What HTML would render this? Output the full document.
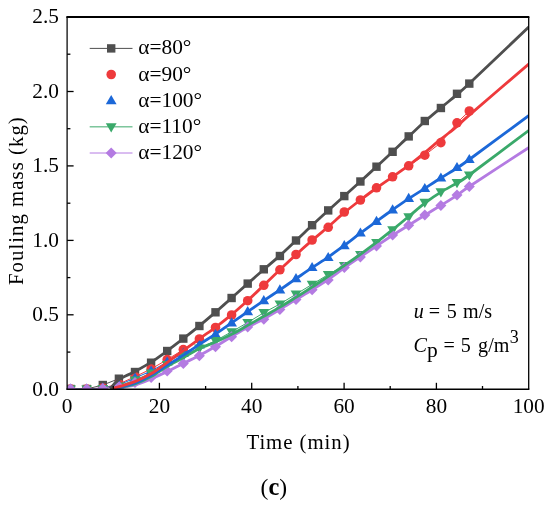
<!DOCTYPE html>
<html><head><meta charset="utf-8"><title>Fouling mass chart (c)</title>
<style>
html,body{margin:0;padding:0;background:#fff;}
svg{display:block}
text{font-family:"Liberation Serif",serif;fill:#000}
.t{font-size:21.3px}
.l{font-size:21.4px}
.a{font-size:20.8px}
.n{font-size:20.1px}
</style></head><body>
<svg width="550" height="507" viewBox="0 0 550 507">
<defs><clipPath id="pc"><rect x="67.1" y="17.0" width="461.6" height="372.3"/></clipPath></defs>
<rect width="550" height="507" fill="#fff"/>
<g clip-path="url(#pc)">
<polyline points="70.6,389.0 86.7,389.0 102.8,385.0 118.9,378.7 135.0,372.0 151.1,362.7 167.2,351.0 183.3,338.6 199.4,326.0 215.5,312.3 231.6,298.0 247.7,283.6 263.8,269.3 279.9,256.0 296.0,240.5 312.1,225.2 328.2,210.4 344.3,196.1 360.4,181.5 376.5,166.7 392.6,151.8 408.7,136.4 424.8,121.0 440.9,108.0 457.0,93.8 469.3,83.6" fill="none" stroke="#4f4f4f" stroke-width="1"/>
<rect x="66.4" y="384.8" width="8.4" height="8.4" fill="#4f4f4f"/>
<rect x="82.5" y="384.8" width="8.4" height="8.4" fill="#4f4f4f"/>
<rect x="98.6" y="380.8" width="8.4" height="8.4" fill="#4f4f4f"/>
<rect x="114.7" y="374.5" width="8.4" height="8.4" fill="#4f4f4f"/>
<rect x="130.8" y="367.8" width="8.4" height="8.4" fill="#4f4f4f"/>
<rect x="146.9" y="358.5" width="8.4" height="8.4" fill="#4f4f4f"/>
<rect x="163.0" y="346.8" width="8.4" height="8.4" fill="#4f4f4f"/>
<rect x="179.1" y="334.4" width="8.4" height="8.4" fill="#4f4f4f"/>
<rect x="195.2" y="321.8" width="8.4" height="8.4" fill="#4f4f4f"/>
<rect x="211.3" y="308.1" width="8.4" height="8.4" fill="#4f4f4f"/>
<rect x="227.4" y="293.8" width="8.4" height="8.4" fill="#4f4f4f"/>
<rect x="243.5" y="279.4" width="8.4" height="8.4" fill="#4f4f4f"/>
<rect x="259.6" y="265.1" width="8.4" height="8.4" fill="#4f4f4f"/>
<rect x="275.7" y="251.8" width="8.4" height="8.4" fill="#4f4f4f"/>
<rect x="291.8" y="236.3" width="8.4" height="8.4" fill="#4f4f4f"/>
<rect x="307.9" y="221.0" width="8.4" height="8.4" fill="#4f4f4f"/>
<rect x="324.0" y="206.2" width="8.4" height="8.4" fill="#4f4f4f"/>
<rect x="340.1" y="191.9" width="8.4" height="8.4" fill="#4f4f4f"/>
<rect x="356.2" y="177.3" width="8.4" height="8.4" fill="#4f4f4f"/>
<rect x="372.3" y="162.5" width="8.4" height="8.4" fill="#4f4f4f"/>
<rect x="388.4" y="147.6" width="8.4" height="8.4" fill="#4f4f4f"/>
<rect x="404.5" y="132.2" width="8.4" height="8.4" fill="#4f4f4f"/>
<rect x="420.6" y="116.8" width="8.4" height="8.4" fill="#4f4f4f"/>
<rect x="436.7" y="103.8" width="8.4" height="8.4" fill="#4f4f4f"/>
<rect x="452.8" y="89.6" width="8.4" height="8.4" fill="#4f4f4f"/>
<rect x="465.1" y="79.4" width="8.4" height="8.4" fill="#4f4f4f"/>
<polyline points="70.6,389.0 86.7,389.0 102.8,388.0 118.9,384.0 135.0,376.7 151.1,369.0 167.2,359.6 183.3,349.6 199.4,339.0 215.5,327.5 231.6,315.0 247.7,300.7 263.8,285.3 279.9,269.8 296.0,254.5 312.1,240.0 328.2,227.3 344.3,212.0 360.4,200.0 376.5,187.8 392.6,176.8 408.7,165.8 424.8,155.2 440.9,142.6 457.0,122.8 469.3,111.0" fill="none" stroke="#ee3a3c" stroke-width="1"/>
<circle cx="70.6" cy="389.0" r="4.8" fill="#ee3a3c"/>
<circle cx="86.7" cy="389.0" r="4.8" fill="#ee3a3c"/>
<circle cx="102.8" cy="388.0" r="4.8" fill="#ee3a3c"/>
<circle cx="118.9" cy="384.0" r="4.8" fill="#ee3a3c"/>
<circle cx="135.0" cy="376.7" r="4.8" fill="#ee3a3c"/>
<circle cx="151.1" cy="369.0" r="4.8" fill="#ee3a3c"/>
<circle cx="167.2" cy="359.6" r="4.8" fill="#ee3a3c"/>
<circle cx="183.3" cy="349.6" r="4.8" fill="#ee3a3c"/>
<circle cx="199.4" cy="339.0" r="4.8" fill="#ee3a3c"/>
<circle cx="215.5" cy="327.5" r="4.8" fill="#ee3a3c"/>
<circle cx="231.6" cy="315.0" r="4.8" fill="#ee3a3c"/>
<circle cx="247.7" cy="300.7" r="4.8" fill="#ee3a3c"/>
<circle cx="263.8" cy="285.3" r="4.8" fill="#ee3a3c"/>
<circle cx="279.9" cy="269.8" r="4.8" fill="#ee3a3c"/>
<circle cx="296.0" cy="254.5" r="4.8" fill="#ee3a3c"/>
<circle cx="312.1" cy="240.0" r="4.8" fill="#ee3a3c"/>
<circle cx="328.2" cy="227.3" r="4.8" fill="#ee3a3c"/>
<circle cx="344.3" cy="212.0" r="4.8" fill="#ee3a3c"/>
<circle cx="360.4" cy="200.0" r="4.8" fill="#ee3a3c"/>
<circle cx="376.5" cy="187.8" r="4.8" fill="#ee3a3c"/>
<circle cx="392.6" cy="176.8" r="4.8" fill="#ee3a3c"/>
<circle cx="408.7" cy="165.8" r="4.8" fill="#ee3a3c"/>
<circle cx="424.8" cy="155.2" r="4.8" fill="#ee3a3c"/>
<circle cx="440.9" cy="142.6" r="4.8" fill="#ee3a3c"/>
<circle cx="457.0" cy="122.8" r="4.8" fill="#ee3a3c"/>
<circle cx="469.3" cy="111.0" r="4.8" fill="#ee3a3c"/>
<polyline points="70.6,389.0 86.7,389.0 102.8,388.0 118.9,385.0 135.0,378.0 151.1,371.0 167.2,362.0 183.3,353.3 199.4,344.8 215.5,334.3 231.6,322.8 247.7,311.6 263.8,300.7 279.9,289.8 296.0,278.7 312.1,267.5 328.2,257.5 344.3,245.6 360.4,233.0 376.5,221.3 392.6,209.8 408.7,198.3 424.8,188.5 440.9,178.0 457.0,167.5 469.3,159.5" fill="none" stroke="#1c68d8" stroke-width="1"/>
<path d="M65.2 392.6L76.0 392.6L70.6 383.4Z" fill="#1c68d8"/>
<path d="M81.3 392.6L92.1 392.6L86.7 383.4Z" fill="#1c68d8"/>
<path d="M97.4 391.6L108.2 391.6L102.8 382.4Z" fill="#1c68d8"/>
<path d="M113.5 388.6L124.3 388.6L118.9 379.4Z" fill="#1c68d8"/>
<path d="M129.6 381.6L140.4 381.6L135.0 372.4Z" fill="#1c68d8"/>
<path d="M145.7 374.6L156.5 374.6L151.1 365.4Z" fill="#1c68d8"/>
<path d="M161.8 365.6L172.6 365.6L167.2 356.4Z" fill="#1c68d8"/>
<path d="M177.9 356.9L188.7 356.9L183.3 347.7Z" fill="#1c68d8"/>
<path d="M194.0 348.4L204.8 348.4L199.4 339.2Z" fill="#1c68d8"/>
<path d="M210.1 337.9L220.9 337.9L215.5 328.7Z" fill="#1c68d8"/>
<path d="M226.2 326.4L237.0 326.4L231.6 317.2Z" fill="#1c68d8"/>
<path d="M242.3 315.2L253.1 315.2L247.7 306.0Z" fill="#1c68d8"/>
<path d="M258.4 304.3L269.2 304.3L263.8 295.1Z" fill="#1c68d8"/>
<path d="M274.5 293.4L285.3 293.4L279.9 284.2Z" fill="#1c68d8"/>
<path d="M290.6 282.3L301.4 282.3L296.0 273.1Z" fill="#1c68d8"/>
<path d="M306.7 271.1L317.5 271.1L312.1 261.9Z" fill="#1c68d8"/>
<path d="M322.8 261.1L333.6 261.1L328.2 251.9Z" fill="#1c68d8"/>
<path d="M338.9 249.2L349.7 249.2L344.3 240.0Z" fill="#1c68d8"/>
<path d="M355.0 236.6L365.8 236.6L360.4 227.4Z" fill="#1c68d8"/>
<path d="M371.1 224.9L381.9 224.9L376.5 215.7Z" fill="#1c68d8"/>
<path d="M387.2 213.4L398.0 213.4L392.6 204.2Z" fill="#1c68d8"/>
<path d="M403.3 201.9L414.1 201.9L408.7 192.7Z" fill="#1c68d8"/>
<path d="M419.4 192.1L430.2 192.1L424.8 182.9Z" fill="#1c68d8"/>
<path d="M435.5 181.6L446.3 181.6L440.9 172.4Z" fill="#1c68d8"/>
<path d="M451.6 171.1L462.4 171.1L457.0 161.9Z" fill="#1c68d8"/>
<path d="M463.9 163.1L474.7 163.1L469.3 153.9Z" fill="#1c68d8"/>
<polyline points="70.6,389.0 86.7,389.0 102.8,388.5 118.9,386.0 135.0,380.0 151.1,373.0 167.2,364.7 183.3,355.8 199.4,348.2 215.5,340.7 231.6,331.8 247.7,322.5 263.8,312.7 279.9,304.0 296.0,294.2 312.1,284.4 328.2,274.5 344.3,265.5 360.4,254.5 376.5,242.5 392.6,229.8 408.7,216.8 424.8,202.3 440.9,191.8 457.0,182.7 469.3,175.0" fill="none" stroke="#3aa96a" stroke-width="1"/>
<path d="M65.2 385.4L76.0 385.4L70.6 394.6Z" fill="#3aa96a"/>
<path d="M81.3 385.4L92.1 385.4L86.7 394.6Z" fill="#3aa96a"/>
<path d="M97.4 384.9L108.2 384.9L102.8 394.1Z" fill="#3aa96a"/>
<path d="M113.5 382.4L124.3 382.4L118.9 391.6Z" fill="#3aa96a"/>
<path d="M129.6 376.4L140.4 376.4L135.0 385.6Z" fill="#3aa96a"/>
<path d="M145.7 369.4L156.5 369.4L151.1 378.6Z" fill="#3aa96a"/>
<path d="M161.8 361.1L172.6 361.1L167.2 370.3Z" fill="#3aa96a"/>
<path d="M177.9 352.2L188.7 352.2L183.3 361.4Z" fill="#3aa96a"/>
<path d="M194.0 344.6L204.8 344.6L199.4 353.8Z" fill="#3aa96a"/>
<path d="M210.1 337.1L220.9 337.1L215.5 346.3Z" fill="#3aa96a"/>
<path d="M226.2 328.2L237.0 328.2L231.6 337.4Z" fill="#3aa96a"/>
<path d="M242.3 318.9L253.1 318.9L247.7 328.1Z" fill="#3aa96a"/>
<path d="M258.4 309.1L269.2 309.1L263.8 318.3Z" fill="#3aa96a"/>
<path d="M274.5 300.4L285.3 300.4L279.9 309.6Z" fill="#3aa96a"/>
<path d="M290.6 290.6L301.4 290.6L296.0 299.8Z" fill="#3aa96a"/>
<path d="M306.7 280.8L317.5 280.8L312.1 290.0Z" fill="#3aa96a"/>
<path d="M322.8 270.9L333.6 270.9L328.2 280.1Z" fill="#3aa96a"/>
<path d="M338.9 261.9L349.7 261.9L344.3 271.1Z" fill="#3aa96a"/>
<path d="M355.0 250.9L365.8 250.9L360.4 260.1Z" fill="#3aa96a"/>
<path d="M371.1 238.9L381.9 238.9L376.5 248.1Z" fill="#3aa96a"/>
<path d="M387.2 226.2L398.0 226.2L392.6 235.4Z" fill="#3aa96a"/>
<path d="M403.3 213.2L414.1 213.2L408.7 222.4Z" fill="#3aa96a"/>
<path d="M419.4 198.7L430.2 198.7L424.8 207.9Z" fill="#3aa96a"/>
<path d="M435.5 188.2L446.3 188.2L440.9 197.4Z" fill="#3aa96a"/>
<path d="M451.6 179.1L462.4 179.1L457.0 188.3Z" fill="#3aa96a"/>
<path d="M463.9 171.4L474.7 171.4L469.3 180.6Z" fill="#3aa96a"/>
<polyline points="70.6,389.0 86.7,389.0 102.8,388.5 118.9,386.5 135.0,382.5 151.1,377.4 167.2,371.0 183.3,363.4 199.4,355.8 215.5,346.7 231.6,336.7 247.7,326.9 263.8,319.3 279.9,309.5 296.0,299.6 312.1,289.8 328.2,280.0 344.3,267.5 360.4,257.0 376.5,246.0 392.6,235.0 408.7,225.3 424.8,215.0 440.9,205.6 457.0,195.0 469.3,186.5" fill="none" stroke="#b47be2" stroke-width="1"/>
<path d="M65.1 389.0L70.6 383.5L76.1 389.0L70.6 394.5Z" fill="#b47be2"/>
<path d="M81.2 389.0L86.7 383.5L92.2 389.0L86.7 394.5Z" fill="#b47be2"/>
<path d="M97.3 388.5L102.8 383.0L108.3 388.5L102.8 394.0Z" fill="#b47be2"/>
<path d="M113.4 386.5L118.9 381.0L124.4 386.5L118.9 392.0Z" fill="#b47be2"/>
<path d="M129.5 382.5L135.0 377.0L140.5 382.5L135.0 388.0Z" fill="#b47be2"/>
<path d="M145.6 377.4L151.1 371.9L156.6 377.4L151.1 382.9Z" fill="#b47be2"/>
<path d="M161.7 371.0L167.2 365.5L172.7 371.0L167.2 376.5Z" fill="#b47be2"/>
<path d="M177.8 363.4L183.3 357.9L188.8 363.4L183.3 368.9Z" fill="#b47be2"/>
<path d="M193.9 355.8L199.4 350.3L204.9 355.8L199.4 361.3Z" fill="#b47be2"/>
<path d="M210.0 346.7L215.5 341.2L221.0 346.7L215.5 352.2Z" fill="#b47be2"/>
<path d="M226.1 336.7L231.6 331.2L237.1 336.7L231.6 342.2Z" fill="#b47be2"/>
<path d="M242.2 326.9L247.7 321.4L253.2 326.9L247.7 332.4Z" fill="#b47be2"/>
<path d="M258.3 319.3L263.8 313.8L269.3 319.3L263.8 324.8Z" fill="#b47be2"/>
<path d="M274.4 309.5L279.9 304.0L285.4 309.5L279.9 315.0Z" fill="#b47be2"/>
<path d="M290.5 299.6L296.0 294.1L301.5 299.6L296.0 305.1Z" fill="#b47be2"/>
<path d="M306.6 289.8L312.1 284.3L317.6 289.8L312.1 295.3Z" fill="#b47be2"/>
<path d="M322.7 280.0L328.2 274.5L333.7 280.0L328.2 285.5Z" fill="#b47be2"/>
<path d="M338.8 267.5L344.3 262.0L349.8 267.5L344.3 273.0Z" fill="#b47be2"/>
<path d="M354.9 257.0L360.4 251.5L365.9 257.0L360.4 262.5Z" fill="#b47be2"/>
<path d="M371.0 246.0L376.5 240.5L382.0 246.0L376.5 251.5Z" fill="#b47be2"/>
<path d="M387.1 235.0L392.6 229.5L398.1 235.0L392.6 240.5Z" fill="#b47be2"/>
<path d="M403.2 225.3L408.7 219.8L414.2 225.3L408.7 230.8Z" fill="#b47be2"/>
<path d="M419.3 215.0L424.8 209.5L430.3 215.0L424.8 220.5Z" fill="#b47be2"/>
<path d="M435.4 205.6L440.9 200.1L446.4 205.6L440.9 211.1Z" fill="#b47be2"/>
<path d="M451.5 195.0L457.0 189.5L462.5 195.0L457.0 200.5Z" fill="#b47be2"/>
<path d="M463.8 186.5L469.3 181.0L474.8 186.5L469.3 192.0Z" fill="#b47be2"/>
<path d="M112.0 388.6 C113.2 388.5 115.2 388.6 119.0 388.0 C122.8 387.4 129.7 386.5 135.0 385.0 C140.3 383.5 145.7 381.2 151.0 379.0 C156.3 376.8 161.6 374.4 167.0 371.8 C172.4 369.2 177.9 366.1 183.3 363.4 C188.7 360.7 194.0 358.3 199.4 355.5 C204.8 352.7 210.1 349.6 215.5 346.5 C220.9 343.4 226.2 339.9 231.6 336.7 C237.0 333.5 242.3 330.3 247.7 327.3 C253.1 324.4 258.4 321.8 263.8 318.9 C269.2 315.9 274.5 312.7 279.9 309.5 C285.3 306.3 290.6 302.9 296.0 299.6 C301.4 296.3 306.7 293.2 312.1 289.8 C317.5 286.4 322.8 283.1 328.2 279.5 C333.6 275.8 338.9 271.7 344.3 267.9 C349.7 264.1 355.0 260.5 360.4 256.9 C365.8 253.2 371.1 249.6 376.5 246.0 C381.9 242.4 387.2 238.7 392.6 235.3 C398.0 231.8 403.3 228.5 408.7 225.2 C414.1 221.8 419.4 218.5 424.8 215.2 C430.2 211.9 435.5 208.7 440.9 205.4 C446.3 202.1 452.3 198.6 457.0 195.4 C461.7 192.3 457.3 194.5 469.3 186.5 C481.3 178.5 519.0 154.0 529.0 147.5" fill="none" stroke="#b47be2" stroke-width="2.8" stroke-linejoin="round"/>
<path d="M112.0 388.6 C113.2 388.5 115.2 388.5 119.0 387.7 C122.8 386.9 129.7 385.9 135.0 384.0 C140.3 382.1 145.7 379.5 151.0 376.6 C156.3 373.7 161.6 369.7 167.0 366.5 C172.4 363.3 178.1 360.6 183.5 357.6 C188.9 354.6 194.1 351.2 199.4 348.6 C204.7 346.0 210.1 344.4 215.5 342.0 C220.9 339.7 226.2 337.1 231.6 334.3 C237.0 331.5 242.3 328.4 247.7 325.4 C253.1 322.4 258.4 319.3 263.8 316.3 C269.2 313.2 274.5 310.3 279.9 307.1 C285.3 304.0 290.6 300.7 296.0 297.4 C301.4 294.1 306.7 290.6 312.1 287.1 C317.5 283.6 322.8 280.0 328.2 276.4 C333.6 272.8 338.9 269.2 344.3 265.5 C349.7 261.8 355.0 258.2 360.4 254.3 C365.8 250.4 371.1 246.5 376.5 242.4 C381.9 238.3 387.2 234.1 392.6 229.7 C398.0 225.4 403.3 220.9 408.7 216.5 C414.1 212.1 419.4 207.2 424.8 203.1 C430.2 199.0 435.5 195.4 440.9 192.1 C446.3 188.7 452.3 185.8 457.0 183.0 C461.7 180.1 457.3 183.8 469.3 175.0 C481.3 166.2 519.0 137.8 529.0 130.3" fill="none" stroke="#3aa96a" stroke-width="2.8" stroke-linejoin="round"/>
<path d="M112.0 388.6 C113.2 388.4 115.2 388.3 119.0 387.4 C122.8 386.5 129.7 385.0 135.0 383.0 C140.3 381.0 145.7 378.2 151.0 375.3 C156.3 372.4 161.6 368.7 167.0 365.3 C172.4 361.9 178.1 358.7 183.5 355.2 C188.9 351.7 194.1 347.9 199.4 344.4 C204.7 340.9 210.1 337.7 215.5 334.1 C220.9 330.5 226.2 326.6 231.6 322.9 C237.0 319.1 242.3 315.4 247.7 311.7 C253.1 308.0 258.4 304.4 263.8 300.7 C269.2 297.1 274.5 293.4 279.9 289.8 C285.3 286.1 290.6 282.4 296.0 278.7 C301.4 275.0 306.7 271.3 312.1 267.7 C317.5 264.1 322.8 260.8 328.2 257.1 C333.6 253.4 338.9 249.4 344.3 245.5 C349.7 241.5 355.0 237.2 360.4 233.2 C365.8 229.2 371.1 225.2 376.5 221.3 C381.9 217.4 387.2 213.6 392.6 209.8 C398.0 206.0 403.3 202.2 408.7 198.6 C414.1 195.1 419.4 191.8 424.8 188.4 C430.2 184.9 435.5 181.4 440.9 178.0 C446.3 174.6 452.3 171.1 457.0 168.0 C461.7 164.9 457.3 168.2 469.3 159.5 C481.3 150.8 519.0 122.8 529.0 115.5" fill="none" stroke="#1c68d8" stroke-width="2.8" stroke-linejoin="round"/>
<path d="M112.0 388.6 C113.2 388.3 115.2 387.9 119.0 386.7 C122.8 385.5 129.6 383.8 134.9 381.6 C140.2 379.5 145.6 376.9 150.9 373.8 C156.2 370.7 161.4 366.6 166.7 362.8 C172.0 359.0 177.2 355.2 182.7 351.2 C188.1 347.2 193.9 342.8 199.4 338.8 C204.9 334.8 210.1 331.3 215.5 327.3 C220.9 323.3 226.2 319.1 231.6 314.6 C237.0 310.2 242.3 305.4 247.7 300.5 C253.1 295.6 258.4 290.4 263.8 285.3 C269.2 280.2 274.5 274.9 279.9 269.8 C285.3 264.7 290.6 259.6 296.0 254.7 C301.4 249.7 306.7 245.0 312.1 240.4 C317.5 235.7 322.8 231.4 328.2 226.8 C333.6 222.2 338.9 217.1 344.3 212.7 C349.7 208.2 355.0 204.1 360.4 200.0 C365.8 195.9 371.1 191.9 376.5 188.0 C381.9 184.2 387.2 180.6 392.6 176.8 C398.0 173.0 403.3 169.4 408.7 165.4 C414.1 161.3 419.4 157.0 424.8 152.6 C430.2 148.2 435.5 143.6 440.9 139.2 C446.3 134.8 452.3 130.4 457.0 126.4 C461.7 122.4 457.3 125.5 469.3 115.1 C481.3 104.7 519.0 72.3 529.0 63.8" fill="none" stroke="#ee3a3c" stroke-width="2.8" stroke-linejoin="round"/>
<path d="M110.0 388.6 C111.5 387.1 114.8 382.4 119.0 379.5 C123.2 376.6 129.7 374.4 135.0 371.5 C140.3 368.6 145.7 365.7 151.1 362.2 C156.5 358.8 161.8 354.8 167.2 350.9 C172.6 346.9 177.9 342.7 183.3 338.6 C188.7 334.4 194.0 330.2 199.4 325.8 C204.8 321.4 210.1 316.8 215.5 312.2 C220.9 307.5 226.2 302.7 231.6 298.0 C237.0 293.2 242.3 288.4 247.7 283.6 C253.1 278.9 258.4 274.2 263.8 269.5 C269.2 264.8 274.5 260.4 279.9 255.6 C285.3 250.7 290.6 245.6 296.0 240.5 C301.4 235.5 306.7 230.3 312.1 225.3 C317.5 220.3 322.8 215.4 328.2 210.5 C333.6 205.6 338.9 200.9 344.3 196.0 C349.7 191.2 355.0 186.4 360.4 181.5 C365.8 176.6 371.1 171.6 376.5 166.7 C381.9 161.7 387.2 156.7 392.6 151.7 C398.0 146.7 403.3 141.4 408.7 136.4 C414.1 131.4 419.4 126.3 424.8 121.5 C430.2 116.7 435.5 112.2 440.9 107.8 C446.3 103.3 452.3 98.6 457.0 94.6 C461.7 90.6 457.3 94.9 469.3 83.6 C481.3 72.3 519.0 36.2 529.0 26.7" fill="none" stroke="#4f4f4f" stroke-width="2.8" stroke-linejoin="round"/>
</g>
<line x1="66.35" y1="17.0" x2="529.35" y2="17.0" stroke="#000" stroke-width="1.9"/>
<line x1="66.35" y1="389.3" x2="529.35" y2="389.3" stroke="#000" stroke-width="1.5"/>
<line x1="67.1" y1="17.0" x2="67.1" y2="389.3" stroke="#000" stroke-width="1.25"/>
<line x1="528.7" y1="17.0" x2="528.7" y2="389.3" stroke="#000" stroke-width="1.3"/>
<text x="67.1" y="413.2" text-anchor="middle" class="t">0</text>
<line x1="113.3" y1="389.3" x2="113.3" y2="386.0" stroke="#000" stroke-width="1.3"/>
<line x1="159.4" y1="389.3" x2="159.4" y2="382.8" stroke="#000" stroke-width="1.3"/>
<text x="159.4" y="413.2" text-anchor="middle" class="t">20</text>
<line x1="205.6" y1="389.3" x2="205.6" y2="386.0" stroke="#000" stroke-width="1.3"/>
<line x1="251.7" y1="389.3" x2="251.7" y2="382.8" stroke="#000" stroke-width="1.3"/>
<text x="251.7" y="413.2" text-anchor="middle" class="t">40</text>
<line x1="297.9" y1="389.3" x2="297.9" y2="386.0" stroke="#000" stroke-width="1.3"/>
<line x1="344.1" y1="389.3" x2="344.1" y2="382.8" stroke="#000" stroke-width="1.3"/>
<text x="344.1" y="413.2" text-anchor="middle" class="t">60</text>
<line x1="390.2" y1="389.3" x2="390.2" y2="386.0" stroke="#000" stroke-width="1.3"/>
<line x1="436.4" y1="389.3" x2="436.4" y2="382.8" stroke="#000" stroke-width="1.3"/>
<text x="436.4" y="413.2" text-anchor="middle" class="t">80</text>
<line x1="482.5" y1="389.3" x2="482.5" y2="386.0" stroke="#000" stroke-width="1.3"/>
<text x="528.7" y="413.2" text-anchor="middle" class="t">100</text>
<text x="58.9" y="395.5" text-anchor="end" class="t">0.0</text>
<line x1="67.1" y1="352.1" x2="70.39999999999999" y2="352.1" stroke="#000" stroke-width="1.3"/>
<line x1="67.1" y1="314.8" x2="73.6" y2="314.8" stroke="#000" stroke-width="1.3"/>
<text x="58.9" y="321.0" text-anchor="end" class="t">0.5</text>
<line x1="67.1" y1="277.6" x2="70.39999999999999" y2="277.6" stroke="#000" stroke-width="1.3"/>
<line x1="67.1" y1="240.4" x2="73.6" y2="240.4" stroke="#000" stroke-width="1.3"/>
<text x="58.9" y="246.6" text-anchor="end" class="t">1.0</text>
<line x1="67.1" y1="203.2" x2="70.39999999999999" y2="203.2" stroke="#000" stroke-width="1.3"/>
<line x1="67.1" y1="165.9" x2="73.6" y2="165.9" stroke="#000" stroke-width="1.3"/>
<text x="58.9" y="172.1" text-anchor="end" class="t">1.5</text>
<line x1="67.1" y1="128.7" x2="70.39999999999999" y2="128.7" stroke="#000" stroke-width="1.3"/>
<line x1="67.1" y1="91.5" x2="73.6" y2="91.5" stroke="#000" stroke-width="1.3"/>
<text x="58.9" y="97.7" text-anchor="end" class="t">2.0</text>
<line x1="67.1" y1="54.2" x2="70.39999999999999" y2="54.2" stroke="#000" stroke-width="1.3"/>
<text x="58.9" y="23.2" text-anchor="end" class="t">2.5</text>
<line x1="89.7" y1="48.4" x2="132.5" y2="48.4" stroke="#4f4f4f" stroke-width="1"/>
<rect x="107.0" y="44.2" width="8.4" height="8.4" fill="#4f4f4f"/>
<text x="138.2" y="54.4" class="l">α=80°</text>
<circle cx="111.2" cy="74.5" r="4.8" fill="#ee3a3c"/>
<text x="138.2" y="80.5" class="l">α=90°</text>
<path d="M105.8 104.3L116.6 104.3L111.2 95.1Z" fill="#1c68d8"/>
<text x="138.2" y="106.7" class="l">α=100°</text>
<line x1="89.7" y1="126.85" x2="132.5" y2="126.85" stroke="#3aa96a" stroke-width="1"/>
<path d="M105.8 123.2L116.6 123.2L111.2 132.4Z" fill="#3aa96a"/>
<text x="138.2" y="132.8" class="l">α=110°</text>
<line x1="89.7" y1="153.0" x2="132.5" y2="153.0" stroke="#b47be2" stroke-width="1"/>
<path d="M105.7 153.0L111.2 147.5L116.7 153.0L111.2 158.5Z" fill="#b47be2"/>
<text x="138.2" y="159.0" class="l">α=120°</text>
<text x="298.5" y="449.4" text-anchor="middle" class="a" style="letter-spacing:0.95px">Time (min)</text>
<text transform="translate(22.7,200.6) rotate(-90)" text-anchor="middle" class="a" style="letter-spacing:1.03px">Fouling mass (kg)</text>
<text x="413.7" y="317.5" class="n"><tspan font-style="italic">u</tspan> <tspan dx="0">=</tspan> <tspan dx="1.7">5</tspan> <tspan dx="1.1">m/s</tspan></text>
<text x="413.6" y="352.2" class="n"><tspan font-style="italic">C</tspan><tspan dy="5.2" style="font-size:21.5px">p</tspan><tspan dy="-5.2"> </tspan><tspan dx="0.65">=</tspan> <tspan dx="1">5</tspan> <tspan dx="2.2">g/m</tspan><tspan dy="-9.4" dx="0.5" style="font-size:18px">3</tspan></text>
<text x="273.8" y="495" text-anchor="middle" style="font-size:23.5px">(<tspan font-weight="bold" style="font-size:24.3px">c</tspan>)</text>
</svg>
</body></html>
